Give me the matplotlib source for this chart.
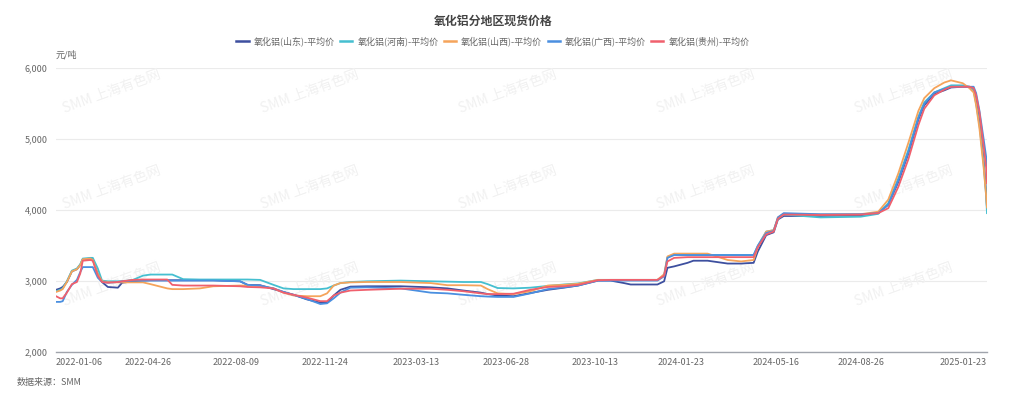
#!/usr/bin/env python3
# -*- coding: utf-8 -*-
"""
Alumina spot price by region.
"""

import pandas as pd
import matplotlib
matplotlib.use('Agg')
import matplotlib.pyplot as plt
from matplotlib.ticker import FuncFormatter

plt.rcParams['font.family'] = ['Noto Sans CJK SC', 'DejaVu Sans']

DATES = [
    '2022-01-06', '2022-01-11', '2022-01-14', '2022-01-19', '2022-01-25', '2022-01-31',
    '2022-02-04', '2022-02-07', '2022-02-16', '2022-02-19', '2022-02-25', '2022-03-02',
    '2022-03-09', '2022-03-21', '2022-03-26', '2022-04-08', '2022-04-20', '2022-04-29',
    '2022-05-19', '2022-05-25', '2022-06-07', '2022-06-27', '2022-07-13', '2022-08-14',
    '2022-08-23', '2022-09-07', '2022-09-23', '2022-10-05', '2022-10-17', '2022-11-02',
    '2022-11-18', '2022-11-26', '2022-12-04', '2022-12-12', '2022-12-24', '2023-01-13',
    '2023-02-22', '2023-03-30', '2023-04-19', '2023-05-08', '2023-05-29', '2023-06-06',
    '2023-06-18', '2023-07-07', '2023-07-27', '2023-08-17', '2023-09-05', '2023-09-22',
    '2023-10-16', '2023-10-31', '2023-11-16', '2023-11-24', '2023-12-26', '2024-01-03',
    '2024-01-07', '2024-01-15', '2024-01-31', '2024-02-07', '2024-02-24', '2024-03-19',
    '2024-04-04', '2024-04-19', '2024-04-24', '2024-05-04', '2024-05-13', '2024-05-18',
    '2024-05-25', '2024-07-08', '2024-08-25', '2024-09-15', '2024-09-27', '2024-10-09',
    '2024-10-21', '2024-11-02', '2024-11-09', '2024-11-21', '2024-12-03', '2024-12-11',
    '2024-12-25', '2025-01-02', '2025-01-07', '2025-01-10', '2025-01-14', '2025-01-19',
    '2025-01-22', '2025-01-23',
]

SHANDONG = [
    2880, 2900, 2920, 2990, 3140, 3170, 3230, 3310, 3320, 3310, 3100, 2990,
    2920, 2910, 2980, 3000, 3010, 3015, 3015, 3015, 3015, 3015, 3015, 3000,
    2950, 2945, 2890, 2850, 2810, 2745, 2700, 2700, 2800, 2880, 2925, 2930,
    2930, 2915, 2900, 2870, 2840, 2820, 2800, 2790, 2835, 2880, 2910, 2940,
    3010, 3010, 2975, 2955, 2955, 3000, 3190, 3210, 3260, 3290, 3290, 3250,
    3250, 3260, 3420, 3650, 3690, 3870, 3920, 3920, 3930, 3960, 4080, 4400,
    4800, 5280, 5480, 5640, 5690, 5730, 5740, 5740, 5700, 5530, 5250, 4700,
    4250, 4030,
]
HENAN = [
    2860, 2880, 2900, 3000, 3150, 3180, 3240, 3320, 3330, 3330, 3180, 3010,
    3000, 3000, 3000, 3020, 3080, 3095, 3095, 3095, 3030, 3025, 3025, 3025,
    3025, 3020, 2950, 2900, 2890, 2890, 2890, 2900, 2940, 2975, 2990, 3000,
    3010, 3000, 2995, 2990, 2990, 2960, 2905, 2900, 2910, 2935, 2955, 2970,
    3020, 3020, 3020, 3020, 3020, 3080, 3340, 3380, 3370, 3370, 3370, 3370,
    3370, 3370, 3500, 3700, 3720, 3880, 3940, 3900, 3910, 3950, 4100, 4450,
    4850, 5320, 5520, 5660, 5720, 5760, 5760, 5740, 5690, 5500, 5200, 4650,
    4200, 3960,
]
SHANXI = [
    2850, 2870, 2890, 2990, 3140, 3170, 3230, 3310, 3320, 3300, 3100, 3000,
    2990, 2985, 2985, 2985, 2985, 2960, 2900, 2890, 2890, 2900, 2930, 2940,
    2940, 2935, 2900, 2840, 2800, 2790, 2790, 2830, 2940, 2975, 2985, 2990,
    2990, 2975, 2945, 2945, 2940, 2890, 2830, 2820, 2860, 2940, 2950, 2965,
    3020, 3020, 3020, 3020, 3020, 3100, 3350, 3390, 3390, 3390, 3390, 3300,
    3280, 3300, 3480, 3700, 3720, 3900, 3950, 3940, 3945, 3980, 4150, 4520,
    4950, 5400, 5580, 5720, 5800, 5830, 5790, 5720, 5660, 5480, 5150, 4600,
    4200, 4040,
]
GUANGXI = [
    2710, 2710, 2720, 2850, 2950, 3020, 3130, 3200, 3200, 3200, 3050, 2990,
    2980, 2990, 3000, 3010, 3010, 3010, 3010, 3010, 3010, 3010, 3010, 3000,
    2950, 2940, 2900, 2850, 2810, 2750, 2680, 2690, 2760, 2840, 2910, 2915,
    2900, 2840, 2830, 2810, 2790, 2785, 2780, 2780, 2830, 2890, 2915, 2940,
    3010, 3010, 3010, 3010, 3010, 3070, 3330, 3370, 3370, 3370, 3370, 3370,
    3370, 3370, 3500, 3680, 3710, 3900, 3960, 3945, 3945, 3960, 4080, 4420,
    4820, 5300, 5500, 5660, 5710, 5740, 5740, 5740, 5740, 5650, 5400, 5000,
    4750, 4550,
]
GUIZHOU = [
    2790, 2760, 2760, 2840, 2960, 2990, 3110, 3290, 3300, 3290, 3080, 2990,
    2980, 2990, 3000, 3020, 3025, 3025, 3025, 2950, 2940, 2940, 2940, 2930,
    2920, 2915, 2900, 2840, 2810, 2770, 2720, 2720, 2800, 2840, 2870, 2880,
    2895, 2895, 2880, 2860, 2830, 2820, 2820, 2825, 2880, 2920, 2930, 2950,
    3015, 3020, 3020, 3020, 3020, 3080, 3280, 3330, 3340, 3340, 3340, 3340,
    3340, 3340, 3480, 3660, 3700, 3880, 3940, 3935, 3940, 3960, 4030, 4330,
    4720, 5200, 5430, 5620, 5700, 5740, 5740, 5740, 5720, 5620, 5380, 4900,
    4600, 4380,
]

SERIES = [
    ('氧化铝(山东)-平均价', SHANDONG, '#3d4f9f'),
    ('氧化铝(河南)-平均价', HENAN, '#45bfd0'),
    ('氧化铝(山西)-平均价', SHANXI, '#f5a45b'),
    ('氧化铝(广西)-平均价', GUANGXI, '#4a8fe0'),
    ('氧化铝(贵州)-平均价', GUIZHOU, '#f0606d'),
]

TICK_DATES = ['2022-01-06', '2022-04-26', '2022-08-09', '2022-11-24', '2023-03-13',
              '2023-06-28', '2023-10-13', '2024-01-23', '2024-05-16', '2024-08-26',
              '2025-01-23']
Y_TICKS = [2000, 3000, 4000, 5000, 6000]


def make_plot():
    fig = plt.figure(figsize=(10.24, 3.99), dpi=100)
    ax = fig.add_axes([56 / 1024, 1 - 352.3 / 399, 931 / 1024, 284 / 399])

    x = pd.to_datetime(DATES)
    for label, vals, color in SERIES:
        ax.plot(x, vals, color=color, lw=1.3, label=label, zorder=3)

    ax.set_xlim(pd.Timestamp('2022-01-06'), pd.Timestamp('2025-01-23'))
    ax.set_ylim(2000, 6000)
    ax.set_yticks(Y_TICKS)
    ax.yaxis.set_major_formatter(FuncFormatter(lambda v, p: '{:,.0f}'.format(v)))
    ax.grid(axis='y', color='#ebebeb', lw=0.8)
    ax.set_axisbelow(True)

    ticks = pd.to_datetime(TICK_DATES)
    ax.set_xticks(ticks)
    ax.set_xticklabels(TICK_DATES)
    labels = ax.get_xticklabels()
    labels[0].set_ha('left')
    labels[-1].set_ha('right')
    for lab in labels[1:-1]:
        lab.set_ha('center')

    ax.tick_params(axis='both', length=0, labelsize=6.5, colors='#666666')
    ax.tick_params(axis='x', pad=4)
    ax.tick_params(axis='y', pad=6)
    for side in ['top', 'right', 'left']:
        ax.spines[side].set_visible(False)
    ax.spines['bottom'].set_color('#a0a4ac')
    ax.spines['bottom'].set_linewidth(1.0)

    # watermark
    for wy in [92, 188, 285]:
        for wx in [112, 310, 508, 706, 904]:
            ax.text(wx / 1024, 1 - wy / 399, 'SMM 上海有色网', transform=fig.transFigure,
                    fontsize=10, color='#f1f1f1', rotation=20, ha='center',
                    va='center', zorder=1, clip_on=False)

    fig.text(493 / 1024, 1 - 21 / 399, '氧化铝分地区现货价格', ha='center', va='center',
             fontsize=8.6, fontweight='bold', color='#444444')
    fig.text(56 / 1024, 1 - 55 / 399, '元/吨', ha='left', va='center',
             fontsize=6.5, color='#666666')
    fig.text(17 / 1024, 1 - 383 / 399, '数据来源：SMM', ha='left', va='center',
             fontsize=6.5, color='#666666')

    leg = fig.legend(loc='center', bbox_to_anchor=(493 / 1024, 1 - 41 / 399), ncol=5,
                     frameon=False, fontsize=6.5, handlelength=1.35, handletextpad=0.55,
                     columnspacing=0.6, labelcolor='#666666')
    for h in leg.legend_handles:
        h.set_linewidth(1.8)

    fig.savefig('out.png', dpi=100)


if __name__ == '__main__':
    make_plot()
